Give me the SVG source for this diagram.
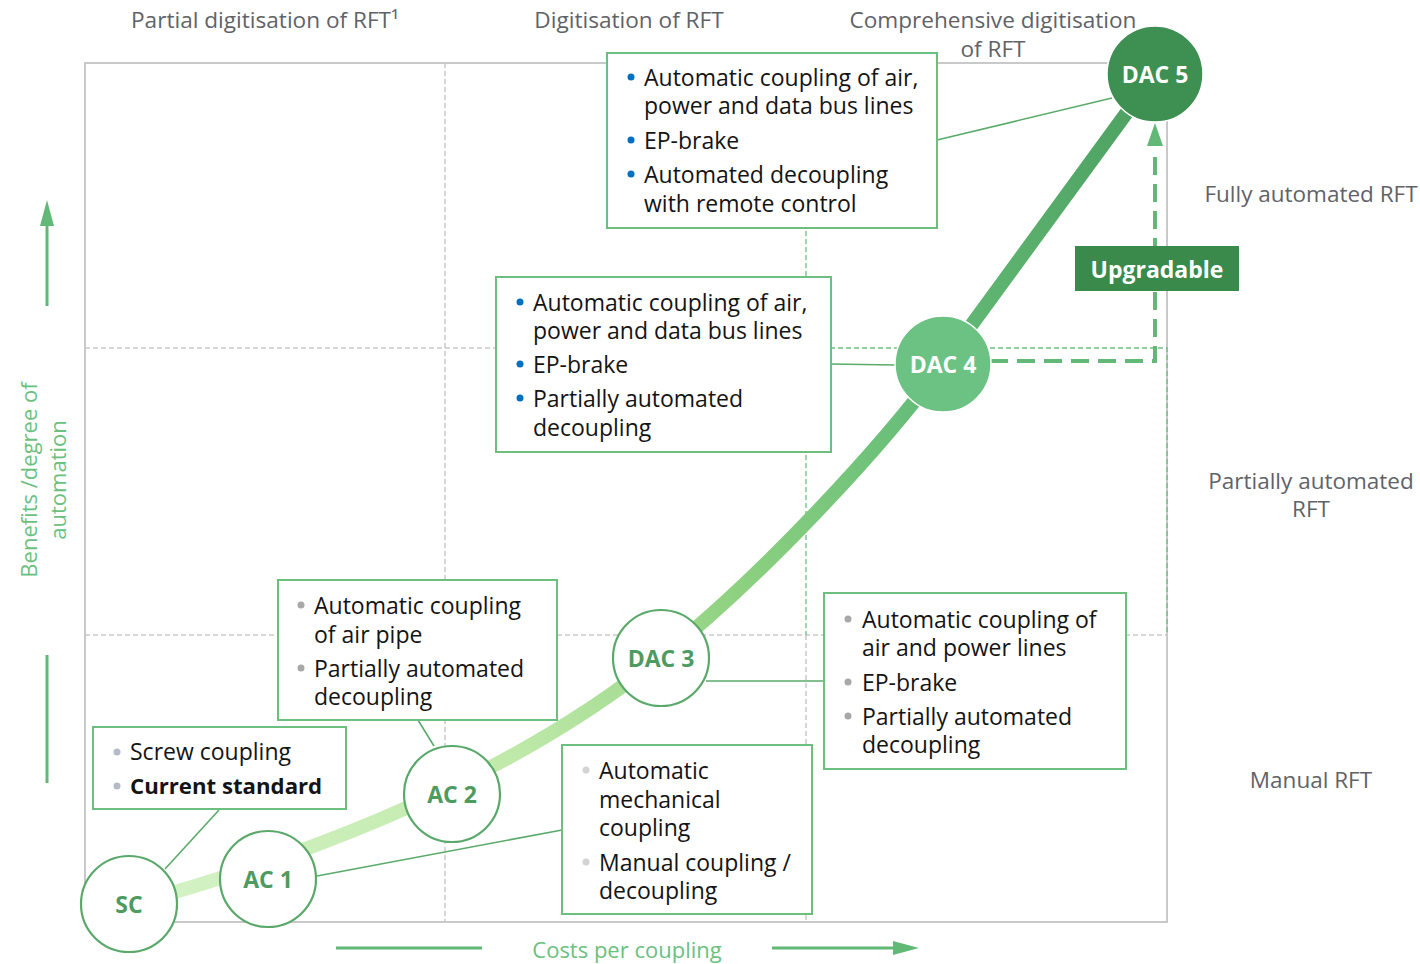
<svg xmlns="http://www.w3.org/2000/svg" width="1420" height="964" viewBox="0 0 1420 964">
<defs>
<linearGradient id="curveGrad" gradientUnits="userSpaceOnUse" x1="130" y1="905" x2="1155" y2="74">
<stop offset="0" stop-color="#d6f3c8"/>
<stop offset="0.3" stop-color="#bfe9a9"/>
<stop offset="0.5" stop-color="#8fd281"/>
<stop offset="0.7" stop-color="#66bd78"/>
<stop offset="1" stop-color="#4c9f60"/>
</linearGradient>
</defs>
<style>
.hdr{font-family:"Open Sans","Liberation Sans",sans-serif;font-size:22.6px;fill:#5f6368;}
.side{font-family:"Open Sans","Liberation Sans",sans-serif;font-size:22.5px;fill:#5f6368;text-anchor:middle;}
.axis{font-family:"Open Sans","Liberation Sans",sans-serif;font-size:22px;fill:#6cbf7e;text-anchor:middle;}
.box{fill:#ffffff;stroke:#6cbf7e;stroke-width:2;}
.bt{font-family:"Open Sans","Liberation Sans",sans-serif;font-size:23px;fill:#141414;}
.btb{font-family:"Open Sans","Liberation Sans",sans-serif;font-size:22.2px;fill:#141414;font-weight:bold;}
.grid{fill:none;stroke:#c9c9c9;stroke-width:1.5;stroke-dasharray:5 3;}
.gridg{fill:none;stroke:#6cbf7e;stroke-width:1.3;stroke-dasharray:5 3;}
.conn{fill:none;stroke:#5aaa6a;stroke-width:1.6;}
.cw{fill:#ffffff;stroke:#5aa86a;stroke-width:2.2;}
.cl{font-family:"Open Sans","Liberation Sans",sans-serif;font-size:23px;font-weight:bold;fill:#4e9a60;text-anchor:middle;}
.clw{font-family:"Open Sans","Liberation Sans",sans-serif;font-size:23px;font-weight:bold;fill:#ffffff;text-anchor:middle;}
.arw{fill:#62b876;}
.bg{fill:#a8a8a8;}
.bl{fill:#0070c0;}
.bc{fill:#d3d3d3;}
.ba{fill:#b4bac6;}
</style>

<g id="grid">
<rect x="85" y="63" width="1082" height="859" fill="none" stroke="#c9c9c9" stroke-width="2"/>
<line class="grid" x1="445" y1="63" x2="445" y2="922"/>
<line class="grid" x1="806" y1="635" x2="806" y2="922"/>
<line class="grid" x1="85" y1="348" x2="806" y2="348"/>
<line class="grid" x1="85" y1="635" x2="1167" y2="635"/>
<path class="gridg" d="M806,63 V635 M806,348 H1167 V635"/>
</g>

<g id="headers">
<text class="hdr" x="131" y="28">Partial digitisation of RFT¹</text>
<text class="hdr" x="629" y="28" text-anchor="middle">Digitisation of RFT</text>
<text class="hdr" text-anchor="middle"><tspan x="993" y="28">Comprehensive digitisation</tspan><tspan x="993" y="57">of RFT</tspan></text>
<text class="side" x="1311" y="202">Fully automated RFT</text>
<text class="side"><tspan x="1311" y="489">Partially automated</tspan><tspan x="1311" y="517">RFT</tspan></text>
<text class="side" x="1311" y="788">Manual RFT</text>
</g>

<g id="axes">
<line x1="47" y1="306" x2="47" y2="222" stroke="#62b876" stroke-width="3"/>
<path class="arw" d="M40,226 L47,200 L54,226 Z"/>
<line x1="47" y1="655" x2="47" y2="783" stroke="#62b876" stroke-width="3"/>
<text class="axis" transform="translate(37,480) rotate(-90)"><tspan x="0" y="0">Benefits /degree of</tspan><tspan x="0" y="29">automation</tspan></text>
<line x1="336" y1="948" x2="482" y2="948" stroke="#62b876" stroke-width="3"/>
<line x1="772" y1="948" x2="896" y2="948" stroke="#62b876" stroke-width="3"/>
<path class="arw" d="M893,941 L919,948 L893,955 Z"/>
<text class="axis" x="627" y="958">Costs per coupling</text>
</g>

<g id="connectors">
<path d="M130,905 C330,850 520,770 661,657 C760,578 880,450 943,364 L1155,74" fill="none" stroke="url(#curveGrad)" stroke-width="14"/>
<line class="conn" x1="165" y1="869" x2="219" y2="810"/>
<line class="conn" x1="317" y1="876" x2="562" y2="830"/>
<line class="conn" x1="434" y1="746" x2="418" y2="720"/>
<line class="conn" x1="706" y1="681" x2="824" y2="681"/>
<line class="conn" x1="831" y1="364" x2="895" y2="365"/>
<line class="conn" x1="937" y1="140" x2="1112" y2="98"/>
<path d="M990,361 H1155 V148" fill="none" stroke="#62b876" stroke-width="4" stroke-dasharray="18 9"/>
<path class="arw" d="M1147,146 L1155,123 L1163,146 Z"/>
</g>

<g id="box-sc">
<rect class="box" x="93" y="727" width="253" height="82"/>
<circle class="ba" cx="117" cy="752" r="3.5"/>
<text class="bt" x="130" y="760">Screw coupling</text>
<circle class="ba" cx="117" cy="786" r="3.5"/>
<text class="btb" x="130" y="794">Current standard</text>
</g>

<g id="box-ac2">
<rect class="box" x="278" y="580" width="279" height="140"/>
<circle class="bg" cx="301" cy="605" r="3.5"/>
<text class="bt"><tspan x="314" y="614">Automatic coupling</tspan><tspan x="314" y="643">of air pipe</tspan></text>
<circle class="bg" cx="301" cy="668" r="3.5"/>
<text class="bt"><tspan x="314" y="677">Partially automated</tspan><tspan x="314" y="705">decoupling</tspan></text>
</g>

<g id="box-ac1">
<rect class="box" x="562" y="745" width="250" height="169"/>
<circle class="bc" cx="586" cy="770" r="3.5"/>
<text class="bt"><tspan x="599" y="779">Automatic</tspan><tspan x="599" y="808">mechanical</tspan><tspan x="599" y="836">coupling</tspan></text>
<circle class="bc" cx="586" cy="862" r="3.5"/>
<text class="bt"><tspan x="599" y="871">Manual coupling /</tspan><tspan x="599" y="899">decoupling</tspan></text>
</g>

<g id="box-dac3">
<rect class="box" x="824" y="593" width="302" height="176"/>
<circle class="bg" cx="848" cy="619" r="3.5"/>
<text class="bt"><tspan x="862" y="628">Automatic coupling of</tspan><tspan x="862" y="656">air and power lines</tspan></text>
<circle class="bg" cx="848" cy="682" r="3.5"/>
<text class="bt" x="862" y="691">EP-brake</text>
<circle class="bg" cx="848" cy="716" r="3.5"/>
<text class="bt"><tspan x="862" y="725">Partially automated</tspan><tspan x="862" y="753">decoupling</tspan></text>
</g>

<g id="box-dac4">
<rect class="box" x="496" y="277" width="335" height="175"/>
<circle class="bl" cx="520" cy="302" r="3.5"/>
<text class="bt"><tspan x="533" y="311">Automatic coupling of air,</tspan><tspan x="533" y="339">power and data bus lines</tspan></text>
<circle class="bl" cx="520" cy="364" r="3.5"/>
<text class="bt" x="533" y="373">EP-brake</text>
<circle class="bl" cx="520" cy="398" r="3.5"/>
<text class="bt"><tspan x="533" y="407">Partially automated</tspan><tspan x="533" y="436">decoupling</tspan></text>
</g>

<g id="box-dac5">
<rect class="box" x="607" y="53" width="330" height="175"/>
<circle class="bl" cx="631" cy="77" r="3.5"/>
<text class="bt"><tspan x="644" y="86">Automatic coupling of air,</tspan><tspan x="644" y="114">power and data bus lines</tspan></text>
<circle class="bl" cx="631" cy="140" r="3.5"/>
<text class="bt" x="644" y="149">EP-brake</text>
<circle class="bl" cx="631" cy="174" r="3.5"/>
<text class="bt"><tspan x="644" y="183">Automated decoupling</tspan><tspan x="644" y="212">with remote control</tspan></text>
</g>

<g id="node-sc">
<circle class="cw" cx="129" cy="904" r="48"/>
<text class="cl" x="129" y="913">SC</text>
</g>
<g id="node-ac1">
<circle class="cw" cx="268" cy="879" r="48"/>
<text class="cl" x="268" y="888">AC 1</text>
</g>
<g id="node-ac2">
<circle class="cw" cx="452" cy="794" r="48"/>
<text class="cl" x="452" y="803">AC 2</text>
</g>
<g id="node-dac3">
<circle class="cw" cx="661" cy="658" r="48"/>
<text class="cl" x="661" y="667">DAC 3</text>
</g>
<g id="node-dac4">
<circle cx="943" cy="364" r="48" fill="#6cc283" stroke="#ffffff" stroke-width="1.5"/>
<text class="clw" x="943" y="373">DAC 4</text>
</g>
<g id="node-dac5">
<circle cx="1155" cy="74" r="48" fill="#3e8f52" stroke="#ffffff" stroke-width="1.5"/>
<text class="clw" x="1155" y="83">DAC 5</text>
</g>

<g id="upgradable">
<rect x="1075" y="246" width="164" height="45" fill="#3a8a4c"/>
<text class="clw" x="1157" y="278">Upgradable</text>
</g>
</svg>
